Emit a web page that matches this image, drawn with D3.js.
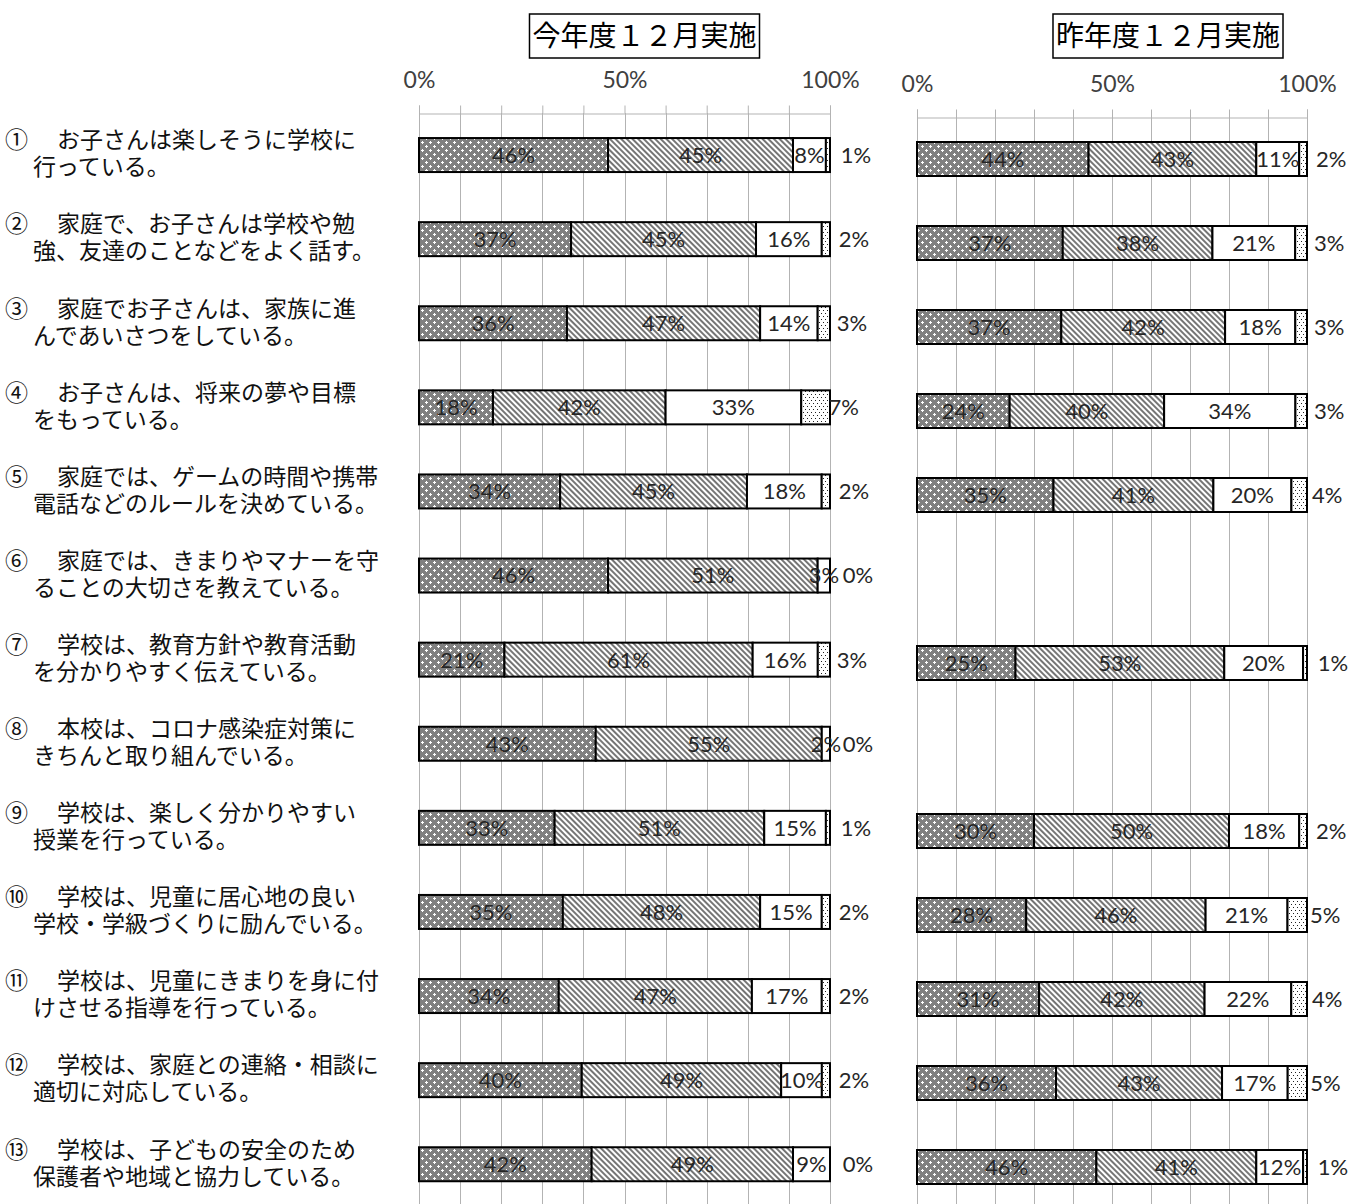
<!DOCTYPE html>
<html>
<head>
<meta charset="utf-8">
<script src="https://cdn.jsdelivr.net/npm/d3@7"></script>
<style>
  body { margin: 0; background: #fff; }
  .qlabel { font-family: "Noto Sans CJK JP", sans-serif; font-size: 23px; fill: #111; }
  .title { font-family: "Noto Sans CJK JP", sans-serif; font-size: 28px; fill: #000; }
  .tick text { font-family: Lato, "Liberation Sans", sans-serif; font-size: 23px; fill: #404040; }
  .val { font-family: Lato, "Liberation Sans", sans-serif; font-size: 22px; fill: #262626; }
</style>
</head>
<body>
<svg id="chart" width="1354" height="1204"></svg>
<script>
// question labels
var numbers = ["①","②","③","④","⑤","⑥","⑦","⑧","⑨","⑩","⑪","⑫","⑬"];
var line1 = [
  "お子さんは楽しそうに学校に",
  "家庭で、お子さんは学校や勉",
  "家庭でお子さんは、家族に進",
  "お子さんは、将来の夢や目標",
  "家庭では、ゲームの時間や携帯",
  "家庭では、きまりやマナーを守",
  "学校は、教育方針や教育活動",
  "本校は、コロナ感染症対策に",
  "学校は、楽しく分かりやすい",
  "学校は、児童に居心地の良い",
  "学校は、児童にきまりを身に付",
  "学校は、家庭との連絡・相談に",
  "学校は、子どもの安全のため"
];
var line2 = [
  "行っている。",
  "強、友達のことなどをよく話す。",
  "んであいさつをしている。",
  "をもっている。",
  "電話などのルールを決めている。",
  "ることの大切さを教えている。",
  "を分かりやすく伝えている。",
  "きちんと取り組んでいる。",
  "授業を行っている。",
  "学校・学級づくりに励んでいる。",
  "けさせる指導を行っている。",
  "適切に対応している。",
  "保護者や地域と協力している。"
];

// 今年度 (this year)
var cur1 = [46, 37, 36, 18, 34, 46, 21, 43, 33, 35, 34, 40, 42];
var cur2 = [45, 45, 47, 42, 45, 51, 61, 55, 51, 48, 47, 49, 49];
var cur3 = [ 8, 16, 14, 33, 18,  3, 16,  2, 15, 15, 17, 10,  9];
var cur4 = [ 1,  2,  3,  7,  2,  0,  3,  0,  1,  2,  2,  2,  0];

// 昨年度 (last year) - items 6 and 8 were not asked
var prev1 = [44, 37, 37, 24, 35, null, 25, null, 30, 28, 31, 36, 46];
var prev2 = [43, 38, 42, 40, 41, null, 53, null, 50, 46, 42, 43, 41];
var prev3 = [11, 21, 18, 34, 20, null, 20, null, 18, 21, 22, 17, 12];
var prev4 = [ 2,  3,  3,  3,  4, null,  1, null,  2,  5,  4,  5,  1];

var titles = ["今年度１２月実施", "昨年度１２月実施"];
var tickLabels = [0, 50, 100];
var keys = ["a", "b", "c", "d"];

var svg = d3.select("#chart");
var defs = svg.append("defs");

// pattern 1: dark dither with white crosses
var p1 = defs.append("pattern").attr("id", "pat1")
    .attr("width", 8).attr("height", 8).attr("patternUnits", "userSpaceOnUse");
p1.append("rect").attr("width", 8).attr("height", 8).attr("fill", "#808080");
[[2, 2], [6, 6]].forEach(function(c) {
    p1.append("rect").attr("x", c[0] - 1).attr("y", c[1]).attr("width", 3).attr("height", 1).attr("fill", "#fff");
    p1.append("rect").attr("x", c[0]).attr("y", c[1] - 1).attr("width", 1).attr("height", 3).attr("fill", "#fff");
});

// pattern 2: diagonal hatching
var p2 = defs.append("pattern").attr("id", "pat2")
    .attr("width", 4).attr("height", 4).attr("patternUnits", "userSpaceOnUse")
    .attr("patternTransform", "rotate(-45)");
p2.append("rect").attr("width", 4).attr("height", 4).attr("fill", "#fff");
p2.append("line").attr("x1", 1).attr("x2", 1).attr("y1", 0).attr("y2", 4)
    .attr("stroke", "#3a3a3a").attr("stroke-width", 1.4);

// pattern 4: sparse dots
var p4 = defs.append("pattern").attr("id", "pat4")
    .attr("width", 4).attr("height", 6).attr("patternUnits", "userSpaceOnUse");
p4.append("rect").attr("width", 4).attr("height", 6).attr("fill", "#fff");
p4.append("rect").attr("x", 1).attr("y", 1).attr("width", 1).attr("height", 1).attr("fill", "#222");
p4.append("rect").attr("x", 3).attr("y", 4).attr("width", 1).attr("height", 1).attr("fill", "#222");

var fills = {a: "url(#pat1)", b: "url(#pat2)", c: "#fff", d: "url(#pat4)"};

// question labels on the left
var yLab = d3.scaleBand().domain(d3.range(13)).range([113, 113 + 13 * 84.1]);
var gLab = svg.append("g");
numbers.forEach(function(n, i) {
    var cy = yLab(i) + yLab.bandwidth() / 2 - 2;
    var t = gLab.append("text").attr("class", "qlabel");
    t.append("tspan").attr("x", 5).attr("y", cy - 13).attr("dy", "0.36em").text(n);
    t.append("tspan").attr("x", 57).attr("y", cy - 13).attr("dy", "0.36em").text(line1[i]);
    t.append("tspan").attr("x", 33).attr("y", cy + 14).attr("dy", "0.36em").text(line2[i]);
});

var drawPanel = function(cfg) {
    var x = d3.scaleLinear().domain([0, 100]).range([cfg.x0, cfg.x1]);
    var y = d3.scaleBand().domain(d3.range(13)).range([cfg.top, cfg.top + 13 * cfg.step]);
    var g = svg.append("g");

    // title box
    var tx = (cfg.x0 + cfg.x1) / 2 + cfg.titleShift;
    var title = g.append("text").attr("class", "title")
        .attr("x", tx).attr("y", 36).attr("dy", "0.36em")
        .attr("text-anchor", "middle").text(cfg.title);
    var bb = title.node().getBBox();
    g.insert("rect", "text")
        .attr("x", bb.x - 3).attr("y", 14).attr("width", bb.width + 6).attr("height", 44)
        .attr("fill", "#fff").attr("stroke", "#000").attr("stroke-width", 1.5);

    // gridlines
    g.append("g").selectAll("line")
        .data(d3.range(0, 101, 10))
        .enter().append("line")
        .attr("x1", function(d) { return Math.round(x(d)) + 0.5; })
        .attr("x2", function(d) { return Math.round(x(d)) + 0.5; })
        .attr("y1", cfg.top).attr("y2", 1204)
        .attr("stroke", "#b3b3b3").attr("stroke-width", 1);

    // top axis
    var axis = g.append("g")
        .attr("transform", "translate(0," + (cfg.top + 0.5) + ")")
        .call(d3.axisTop(x)
            .tickValues(d3.range(0, 101, 10))
            .tickSize(8)
            .tickPadding(18)
            .tickFormat(function(d) { return tickLabels.indexOf(d) >= 0 ? d + "%" : ""; }));
    axis.select(".domain").attr("stroke", "#b3b3b3");
    axis.selectAll(".tick line").attr("stroke", "#b3b3b3");

    // rows
    var rows = [];
    cfg.s1.forEach(function(v, i) {
        if (v == null) return;
        rows.push({i: i, a: cfg.s1[i], b: cfg.s2[i], c: cfg.s3[i], d: cfg.s4[i]});
    });
    var series = d3.stack().keys(keys).offset(d3.stackOffsetExpand)(rows);

    var barH = 34;
    series.forEach(function(s) {
        var key = s.key;
        var gs = g.append("g");
        gs.selectAll("rect")
            .data(s)
            .enter().append("rect")
            .attr("x", function(d) { return x(d[0] * 100); })
            .attr("y", function(d) { return y(d.data.i) + y.bandwidth() / 2 - barH / 2; })
            .attr("width", function(d) { return x(d[1] * 100) - x(d[0] * 100); })
            .attr("height", barH)
            .attr("fill", fills[key])
            .attr("stroke", "#000").attr("stroke-width", 2);
    });
    series.forEach(function(s) {
        var key = s.key;
        g.append("g").selectAll("text")
            .data(s)
            .enter().append("text")
            .attr("class", "val")
            .attr("text-anchor", "middle")
            .attr("x", function(d) {
                var c = (x(d[0] * 100) + x(d[1] * 100)) / 2;
                return key === "d" ? c + 28 : c;
            })
            .attr("y", function(d) { return y(d.data.i) + y.bandwidth() / 2; })
            .attr("dy", "0.36em")
            .text(function(d) { return d.data[key] + "%"; });
    });
};

drawPanel({x0: 419, x1: 830, top: 113, step: 84.1, title: titles[0], titleShift: 20,
    s1: cur1, s2: cur2, s3: cur3, s4: cur4});
drawPanel({x0: 917, x1: 1307, top: 117, step: 84.0, title: titles[1], titleShift: 56,
    s1: prev1, s2: prev2, s3: prev3, s4: prev4});
</script>
</body>
</html>
